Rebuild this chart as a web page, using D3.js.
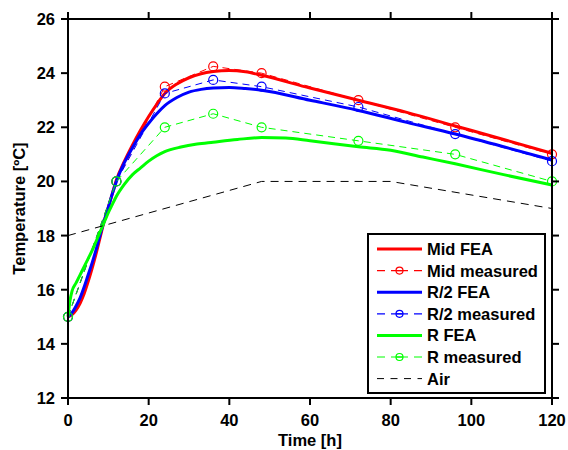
<!DOCTYPE html>
<html><head><meta charset="utf-8">
<script src="https://cdn.jsdelivr.net/npm/d3@7"></script>
<style>body{margin:0;background:#fff}svg{display:block}text{font-family:"Liberation Sans",Arial,sans-serif;font-weight:bold}</style>
</head><body><svg id="c" width="568" height="450"></svg>
<script>
// ---- data ----
const midFeaT = [0,1,2,3,4,5,6,7,8,9,10,11,12,14,16,18,20,22,24,27,30,33,36,40,44,48,60,72,84,96,108,120];
const midFeaV = [15.0,15.08,15.25,15.5,15.85,16.3,16.8,17.35,17.95,18.55,19.05,19.55,20.05,20.75,21.35,21.9,22.4,22.85,23.25,23.6,23.83,23.98,24.06,24.1,24.05,23.92,23.45,23.0,22.55,22.05,21.55,21.04];
const r2FeaT = [0,1,2,3,4,5,6,7,8,9,10,11,12,14,16,18,20,22,24,27,30,33,36,40,44,48,60,72,84,96,108,120];
const r2FeaV = [15.0,15.15,15.4,15.7,16.1,16.55,17.0,17.5,18.05,18.55,19.05,19.55,20.0,20.7,21.25,21.75,22.15,22.5,22.8,23.1,23.3,23.4,23.45,23.47,23.43,23.37,23.0,22.62,22.18,21.75,21.28,20.79];
const rFeaT = [0,0.5,1,2,3,4,5,6,7,8,9,10,11,12,14,16,18,20,22,24,28,32,36,42,48,54,60,72,80,88,96,108,120];
const rFeaV = [15.0,15.6,15.95,16.25,16.55,16.85,17.15,17.45,17.8,18.15,18.5,18.85,19.15,19.45,19.9,20.25,20.5,20.75,20.95,21.1,21.27,21.38,21.45,21.55,21.62,21.6,21.5,21.28,21.15,20.9,20.65,20.25,19.87];
const measT = [0,12,24,36,48,72,96,120];
const midMeas = [15,20,23.5,24.25,24,23,22,21];
const r2Meas = [15,20,23.25,23.75,23.5,22.75,21.75,20.75];
const rMeas = [15,20,22,22.5,22,21.5,21,20];
const airT = [0,48,80,120];
const airV = [18,20,20,19];
const xTicks = [0,20,40,60,80,100,120];
const yTicks = [12,14,16,18,20,22,24,26];
const legendLabels = ["Mid FEA","Mid measured","R/2 FEA","R/2 measured","R FEA","R measured","Air"];

// ---- layout ----
const svg = d3.select("#c");
const L=68,R=552,T=19,B=398;
const x = d3.scaleLinear().domain([0,120]).range([L,R]);
const y = d3.scaleLinear().domain([12,26]).range([B,T]);
const line = d3.line().x(d=>x(d[0])).y(d=>y(d[1])).curve(d3.curveMonotoneX);
const lineLin = d3.line().x(d=>x(d[0])).y(d=>y(d[1]));
const zip=(a,b)=>a.map((v,i)=>[v,b[i]]);

const series = [
  {type:"fea", d:zip(midFeaT,midFeaV), c:"#ff0000"},
  {type:"meas", d:zip(measT,midMeas), c:"#ff0000"},
  {type:"fea", d:zip(r2FeaT,r2FeaV), c:"#0000ff"},
  {type:"meas", d:zip(measT,r2Meas), c:"#0000ff"},
  {type:"fea", d:zip(rFeaT,rFeaV), c:"#00ff00"},
  {type:"meas", d:zip(measT,rMeas), c:"#00ff00"},
  {type:"air", d:zip(airT,airV), c:"#000"}
];

const g = svg.append("g");
series.forEach(s=>{
  if(s.type==="fea"){
    g.append("path").attr("d",line(s.d)).attr("fill","none").attr("stroke",s.c).attr("stroke-width",3).attr("stroke-linejoin","round");
  } else if(s.type==="meas"){
    g.append("path").attr("d",lineLin(s.d)).attr("fill","none").attr("stroke",s.c).attr("stroke-width",1).attr("stroke-dasharray","7,5");
    g.selectAll(null).data(s.d).enter().append("circle").attr("cx",d=>x(d[0])).attr("cy",d=>y(d[1])).attr("r",4.5)
      .attr("fill","none").attr("stroke",s.c).attr("stroke-width",1.2);
  } else {
    g.append("path").attr("d",lineLin(s.d)).attr("fill","none").attr("stroke",s.c).attr("stroke-width",1).attr("stroke-dasharray","8,6");
  }
});

// axes box
const ax = svg.append("g").attr("stroke","#000").attr("stroke-width",2);
ax.append("rect").attr("x",L).attr("y",T).attr("width",R-L).attr("height",B-T).attr("fill","none");
const tl=7;
xTicks.forEach(t=>{
  ax.append("line").attr("x1",x(t)).attr("x2",x(t)).attr("y1",B).attr("y2",B+tl);
  ax.append("line").attr("x1",x(t)).attr("x2",x(t)).attr("y1",T).attr("y2",T-tl);
});
yTicks.forEach(t=>{
  ax.append("line").attr("y1",y(t)).attr("y2",y(t)).attr("x1",L).attr("x2",L-tl);
  ax.append("line").attr("y1",y(t)).attr("y2",y(t)).attr("x1",R).attr("x2",R+tl);
});
const fs=16.5;
svg.selectAll(null).data(xTicks).enter().append("text").attr("x",d=>x(d)).attr("y",426).attr("text-anchor","middle")
  .attr("font-size",fs).text(d=>d);
svg.selectAll(null).data(yTicks).enter().append("text").attr("x",55).attr("y",d=>y(d)+6).attr("text-anchor","end")
  .attr("font-size",fs).text(d=>d);
svg.append("text").attr("x",(L+R)/2).attr("y",446).attr("text-anchor","middle").attr("font-size",fs).text("Time [h]");
svg.append("text").attr("transform",`translate(25,${(T+B)/2}) rotate(-90)`).attr("text-anchor","middle").attr("font-size",fs).text("Temperature [ºC]");

// legend
const lg = svg.append("g");
lg.append("rect").attr("x",368).attr("y",234).attr("width",177).attr("height",159).attr("fill","#fff").attr("stroke","#000").attr("stroke-width",2);
series.forEach((s,i)=>{
  const yy = 249 + i*21.6;
  const ln = lg.append("line").attr("x1",377).attr("x2",422).attr("y1",yy).attr("y2",yy).attr("stroke",s.c);
  if(s.type==="fea") ln.attr("stroke-width",3);
  else if(s.type==="meas"){
    ln.attr("stroke-width",1.2).attr("stroke-dasharray","8,6,17,6,8");
    lg.append("circle").attr("cx",399.5).attr("cy",yy).attr("r",3.5).attr("fill","none").attr("stroke",s.c).attr("stroke-width",1.2);
    lg.append("line").attr("x1",396).attr("x2",403).attr("y1",yy).attr("y2",yy).attr("stroke",s.c).attr("stroke-width",1.2);
  } else ln.attr("stroke-width",1).attr("stroke-dasharray","7,6.5");
  lg.append("text").attr("x",427).attr("y",yy+6).attr("font-size",fs).text(legendLabels[i]);
});
</script></body></html>
